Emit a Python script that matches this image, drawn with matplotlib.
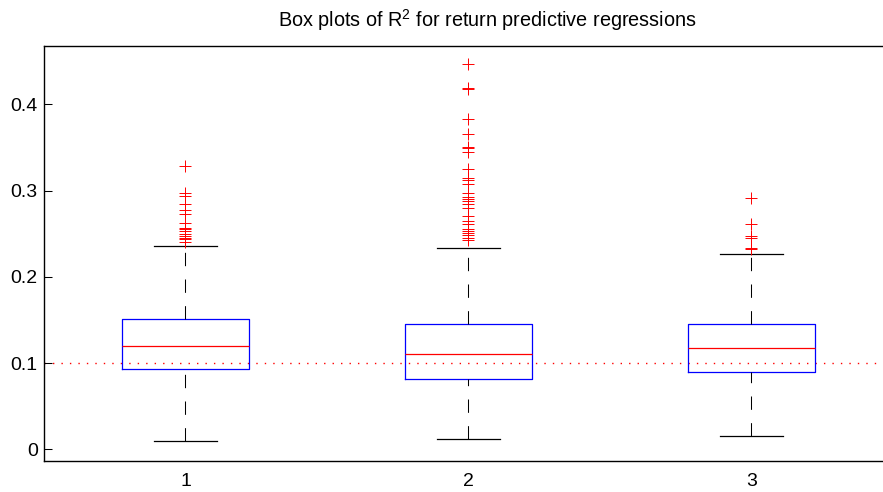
import matplotlib
matplotlib.use('Agg')
import matplotlib.pyplot as plt

plt.rcParams['font.family'] = ['Liberation Sans', 'DejaVu Sans']
plt.rcParams['mathtext.fontset'] = 'custom'
plt.rcParams['mathtext.rm'] = 'Liberation Sans'
plt.rcParams['mathtext.it'] = 'Liberation Sans:italic'
plt.rcParams['mathtext.bf'] = 'Liberation Sans:bold'

# ---------------- data ----------------
groups = ['1', '2', '3']
medians = [0.1198, 0.1105, 0.1178]
q1 = [0.0928, 0.0812, 0.0893]
q3 = [0.1507, 0.1449, 0.1449]
whisker_low = [0.0096, 0.0119, 0.0158]
whisker_high = [0.2360, 0.2337, 0.2264]
outliers_1 = [0.3288, 0.2975, 0.2940, 0.2844, 0.2775, 0.2724, 0.2627, 0.2570,
              0.2550, 0.2530, 0.2493, 0.2473, 0.2453, 0.2435, 0.2407]
outliers_2 = [0.4465, 0.4186, 0.4174, 0.3830, 0.3650, 0.3509, 0.3490, 0.3450,
              0.3246, 0.3142, 0.3122, 0.3072, 0.2975, 0.2929, 0.2899, 0.2880,
              0.2844, 0.2794, 0.2705, 0.2647, 0.2612, 0.2558, 0.2534, 0.2504,
              0.2481, 0.2453, 0.2427]
outliers_3 = [0.2915, 0.2611, 0.2473, 0.2445, 0.2337, 0.2320]
reference_level = 0.1
ytick_values = [0, 0.1, 0.2, 0.3, 0.4]
ytick_labels = ['0', '0.1', '0.2', '0.3', '0.4']
title = 'Box plots of R$^{2}$ for return predictive regressions'

outliers = [outliers_1, outliers_2, outliers_3]
positions = list(range(1, len(groups) + 1))
stats = []
for i, g in enumerate(groups):
    stats.append(dict(label=g, med=medians[i], q1=q1[i], q3=q3[i],
                      whislo=whisker_low[i], whishi=whisker_high[i],
                      fliers=outliers[i]))

# ---------------- figure ----------------
W, H = 883, 492
fig = plt.figure(figsize=(W / 100, H / 100), dpi=100)
ax_left, ax_right, ax_top, ax_bottom = 44, 892.8, 46, 460.7
ax = fig.add_axes([ax_left / W, 1 - ax_bottom / H,
                   (ax_right - ax_left) / W, (ax_bottom - ax_top) / H])

ax.axhline(reference_level, color='#ff0000', lw=1.0,
           ls=(0, (1, 5.1)), zorder=1)

res = ax.bxp(stats, positions=positions, widths=0.45, capwidths=0.225,
             boxprops=dict(color='#0000ff', lw=0.9),
             medianprops=dict(color='#ff0000', lw=0.9),
             whiskerprops=dict(color='black', lw=0.75, ls=(0, (12.8, 12.8))),
             capprops=dict(color='black', lw=0.9),
             flierprops=dict(marker='+', markeredgecolor='#ff0000',
                             markersize=9, markeredgewidth=0.7,
                             linestyle='none'),
             zorder=2)
# lower whiskers: draw from the cap towards the box (dash starts at cap)
for k, w in enumerate(res['whiskers']):
    if k % 2 == 0:
        w.set_ydata(list(w.get_ydata())[::-1])

ax.set_xlim(0.5, len(groups) + 0.5)
ax.set_ylim(-0.0132, 0.4676)
ax.set_xticks(positions)
ax.set_xticklabels(groups)
ax.set_yticks(ytick_values)
ax.set_yticklabels(ytick_labels)
ax.tick_params(axis='y', direction='in', length=5.8, width=0.75,
               labelsize=14, pad=4.5)
ax.tick_params(axis='x', length=0, labelsize=14, pad=9)
for s in ['left', 'bottom', 'top']:
    ax.spines[s].set_linewidth(1.0)
ax.spines['right'].set_visible(False)

fig.text(487.5 / W, 1 - 27 / H, title, ha='center', va='baseline',
         fontsize=14.3)

fig.savefig('out.png', dpi=100)
